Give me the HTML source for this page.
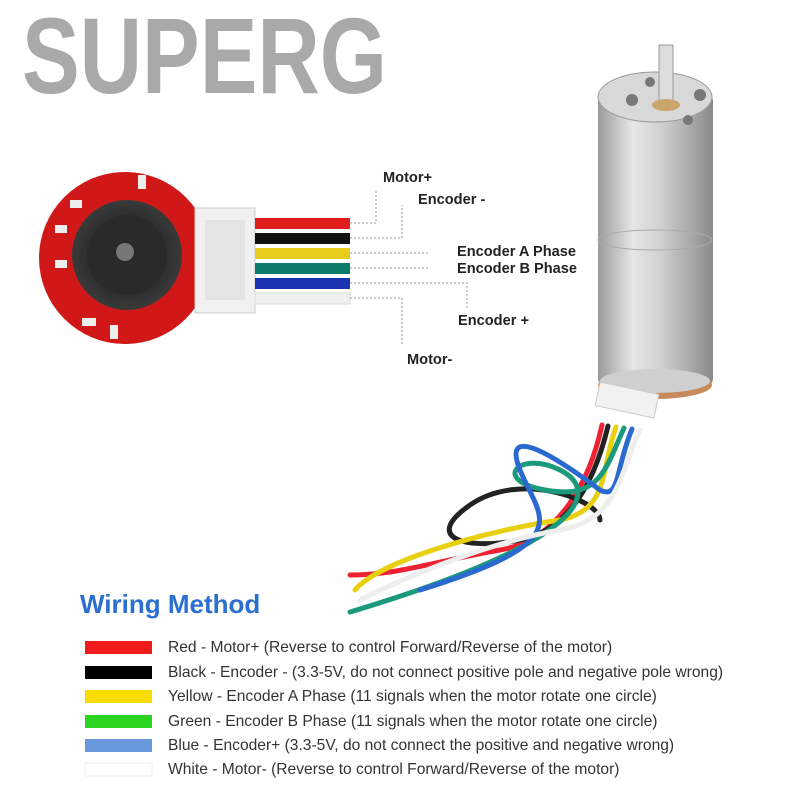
<!DOCTYPE html>
<html><head><style>
body{margin:0;width:800px;height:800px;background:#fff;overflow:hidden;font-family:"Liberation Sans",sans-serif}
</style></head><body>
<svg width="800" height="800" viewBox="0 0 800 800" xmlns="http://www.w3.org/2000/svg" font-family="Liberation Sans, sans-serif">
<defs>
<linearGradient id="cyl" x1="0" x2="1">
<stop offset="0" stop-color="#9a9a9a"/><stop offset="0.3" stop-color="#e6e6e6"/><stop offset="0.55" stop-color="#d0d0d0"/><stop offset="1" stop-color="#8a8a8a"/>
</linearGradient>
<radialGradient id="hub"><stop offset="0" stop-color="#555"/><stop offset="0.6" stop-color="#2a2a2a"/><stop offset="1" stop-color="#3a3a3a"/></radialGradient>
</defs>
<text x="22" y="93" font-size="108" fill="#a9a9a9" font-weight="bold" textLength="365" lengthAdjust="spacingAndGlyphs">SUPERG</text>
<!-- motor -->
<rect x="598" y="95" width="115" height="290" rx="6" fill="url(#cyl)"/>
<ellipse cx="655" cy="97" rx="57" ry="25" fill="#d8d8d8" stroke="#999"/>
<ellipse cx="655" cy="240" rx="57" ry="10" fill="none" stroke="#aaa"/>
<ellipse cx="655" cy="385" rx="57" ry="14" fill="#c88a5a"/>
<ellipse cx="655" cy="381" rx="55" ry="12" fill="#cfcfcf"/>
<rect x="659" y="45" width="14" height="60" fill="#ddd" stroke="#999"/>
<ellipse cx="666" cy="105" rx="14" ry="6" fill="#c9a56a"/>
<circle cx="632" cy="100" r="6" fill="#777"/><circle cx="700" cy="95" r="6" fill="#777"/><circle cx="650" cy="82" r="5" fill="#777"/><circle cx="688" cy="120" r="5" fill="#777"/>
<rect x="597" y="388" width="60" height="24" fill="#f1f1f1" stroke="#ccc" transform="rotate(12 627 400)"/>
<!-- wires -->
<g fill="none" stroke-width="5" stroke-linecap="round">
<path d="M602 425 C590 480 560 540 500 550 C440 560 400 575 350 575" stroke="#e23"/>
<path d="M608 426 C595 480 570 530 520 540 C470 550 420 540 470 505 C520 470 600 500 600 520" stroke="#222"/>
<path d="M616 427 C600 470 610 510 560 520 C490 530 380 560 355 590" stroke="#e8d010"/>
<path d="M624 428 C605 470 600 500 545 490 C490 480 520 450 560 470 C600 490 590 540 350 612" stroke="#1a9a7a"/>
<path d="M632 429 C615 470 620 500 600 490 C560 460 500 420 520 470 C540 520 580 540 420 590" stroke="#2a6ad0"/>
<path d="M640 430 C620 470 620 520 560 530 C500 540 420 570 360 600" stroke="#eee"/>
</g>
<!-- encoder board -->
<circle cx="125" cy="258" r="86" fill="#d01818"/>
<circle cx="127" cy="255" r="55" fill="url(#hub)"/>
<circle cx="127" cy="255" r="40" fill="#2a2a2a"/>
<circle cx="125" cy="252" r="9" fill="#777"/>
<rect x="70" y="200" width="12" height="8" fill="#eee"/><rect x="55" y="225" width="12" height="8" fill="#eee"/><rect x="55" y="260" width="12" height="8" fill="#eee"/><rect x="82" y="318" width="14" height="8" fill="#eee"/><rect x="110" y="325" width="8" height="14" fill="#eee"/><rect x="138" y="175" width="8" height="14" fill="#eee"/>
<rect x="195" y="208" width="60" height="105" fill="#f0f0f0" stroke="#ccc"/>
<rect x="205" y="220" width="40" height="80" fill="#e4e4e4"/>
<rect x="255" y="218" width="95" height="11" fill="#e01e1e"/>
<rect x="255" y="233" width="95" height="11" fill="#111"/>
<rect x="255" y="248" width="95" height="11" fill="#e6cc1c"/>
<rect x="255" y="263" width="95" height="11" fill="#0e7a6a"/>
<rect x="255" y="278" width="95" height="11" fill="#1a34b0"/>
<rect x="255" y="293" width="95" height="11" fill="#f0f0f0" stroke="#ddd"/>
<g stroke="#999" stroke-dasharray="2,2" fill="none">
<path d="M350 223 H376 V190"/><path d="M350 238 H402 V205"/>
<path d="M350 253 H428"/><path d="M350 268 H428"/>
<path d="M350 283 H467 V308"/><path d="M350 298 H402 V345"/>
</g>
<g font-weight="bold" font-size="14.6" fill="#222">
<text x="383" y="182">Motor+</text>
<text x="418" y="204">Encoder -</text>
<text x="457" y="256">Encoder A Phase</text>
<text x="457" y="273">Encoder B Phase</text>
<text x="458" y="325">Encoder +</text>
<text x="407" y="364">Motor-</text>
</g>
<text x="80" y="613" font-size="26" font-weight="bold" fill="#2b6fd0">Wiring Method</text>
<rect x="85" y="641" width="67" height="13" fill="#f01c1c"/>
<rect x="85" y="666" width="67" height="13" fill="#000"/>
<rect x="85" y="690" width="67" height="13" fill="#f8dc00"/>
<rect x="85" y="715" width="67" height="13" fill="#2bd420"/>
<rect x="85" y="739" width="67" height="13" fill="#6a98dc"/>
<rect x="85" y="763" width="67" height="13" fill="#fff" stroke="#eee"/>
<g font-size="15.6" fill="#333">
<text x="168" y="652">Red - Motor+ (Reverse to control Forward/Reverse of the motor)</text>
<text x="168" y="677">Black - Encoder - (3.3-5V, do not connect positive pole and negative pole wrong)</text>
<text x="168" y="701">Yellow - Encoder A Phase (11 signals when the motor rotate one circle)</text>
<text x="168" y="726">Green - Encoder B Phase (11 signals when the motor rotate one circle)</text>
<text x="168" y="750">Blue - Encoder+ (3.3-5V, do not connect the positive and negative wrong)</text>
<text x="168" y="774">White - Motor- (Reverse to control Forward/Reverse of the motor)</text>
</g>
</svg>
</body></html>
